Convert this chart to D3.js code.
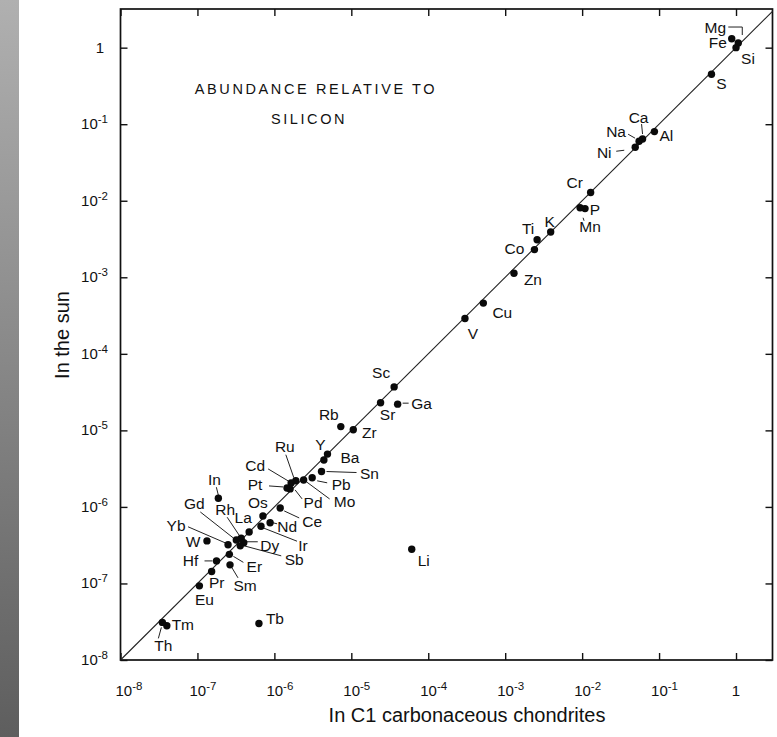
<!DOCTYPE html>
<html><head><meta charset="utf-8">
<script src="https://cdn.jsdelivr.net/npm/d3@7"></script>
<style>
body{margin:0;background:#fff;}
svg{display:block;}
text{font-family:"Liberation Sans",Arial,Helvetica,sans-serif;fill:#111;}
</style>
</head><body><svg id="c" width="777" height="737"></svg>
<script>
// ---------------- data ----------------
const elements  = ["Mg","Fe","Si","S","Al","Ca","Na","Ni","Cr","P","Mn","K","Ti","Co","Zn","Cu","V",
  "Sc","Sr","Ga","Rb","Zr","Y","Ba","Sn","Pb","Mo","Pd","Ru","Cd","Pt","Os","Ce","Nd","Ir","La",
  "In","Rh","Gd","Yb","W","Dy","Sb","Hf","Er","Sm","Pr","Eu","Tm","Th","Tb","Li"];
const chondrite = [1.07,0.88,1.0,0.48,0.087,0.061,0.055,0.049,0.0129,0.0109,0.0094,0.0039,0.0026,0.0024,0.0013,0.00052,0.0003,
  3.6e-5,2.4e-5,4.0e-5,7.3e-6,1.06e-5,4.9e-6,4.4e-6,4.1e-6,3.1e-6,2.4e-6,1.6e-6,1.9e-6,1.65e-6,1.46e-6,7.1e-7,1.19e-6,8.8e-7,6.7e-7,4.7e-7,
  1.87e-7,3.7e-7,3.2e-7,2.5e-7,1.33e-7,4.0e-7,3.6e-7,1.77e-7,2.6e-7,2.65e-7,1.53e-7,1.06e-7,4.0e-8,3.5e-8,6.3e-7,6.1e-5];
const sun       = [1.15,1.31,1.0,0.45,0.08,0.064,0.06,0.05,0.0128,0.0079,0.0081,0.0039,0.0031,0.0023,0.00113,0.00046,0.00029,
  3.7e-5,2.3e-5,2.2e-5,1.12e-5,1.02e-5,4.9e-6,4.1e-6,2.9e-6,2.4e-6,2.25e-6,1.72e-6,2.2e-6,2.06e-6,1.77e-6,7.6e-7,9.7e-7,6.2e-7,5.6e-7,4.7e-7,
  1.3e-6,3.9e-7,3.7e-7,3.2e-7,3.6e-7,3.4e-7,3.1e-7,1.97e-7,2.4e-7,1.75e-7,1.43e-7,9.3e-8,2.8e-8,3.1e-8,3.0e-8,2.8e-7];
const tickExponents = [-8,-7,-6,-5,-4,-3,-2,-1,0];
const titleLines = ["ABUNDANCE RELATIVE TO","SILICON"];
const xTitle = "In C1 carbonaceous chondrites";
const yTitle = "In the sun";

// ---------------- label layout (offsets from the point, px) ----------------
const labelLayout = {
  Mg:{dx:-23,dy:-16, path:[[-10,-16],[4,-16],[4,-8]]},
  Fe:{dx:-14,dy:4}, Si:{dx:12,dy:11}, S:{dx:10,dy:9}, Al:{dx:12,dy:4},
  Ca:{dx:-4,dy:-22, path:[[-1,-15],[0,-5]]},
  Na:{dx:-23,dy:-10, path:[[-11,-7],[-4,-3]]},
  Ni:{dx:-31,dy:5, path:[[-19,4],[-11,3]]},
  Cr:{dx:-16,dy:-10}, P:{dx:10,dy:1},
  Mn:{dx:10,dy:19, path:[[3,10],[4,13]]},
  K:{dx:-1,dy:-11}, Ti:{dx:-9,dy:-11}, Co:{dx:-20,dy:-1}, Zn:{dx:19,dy:6},
  Cu:{dx:19,dy:9}, V:{dx:8,dy:15}, Sc:{dx:-13,dy:-14}, Sr:{dx:7,dy:12},
  Ga:{dx:24,dy:-1, path:[[5,-1],[11,-1]]},
  Rb:{dx:-12,dy:-12}, Zr:{dx:16,dy:3}, Y:{dx:-7,dy:-10}, Ba:{dx:26,dy:-3},
  Sn:{dx:48,dy:2, path:[[5,0],[35,1]]},
  Pb:{dx:29,dy:7, path:[[5,3],[15,5]]},
  Mo:{dx:41,dy:22, path:[[3,2],[26,19]]},
  Pd:{dx:23,dy:14, path:[[5,1],[12,10]]},
  Ru:{dx:-11,dy:-34, path:[[-10,-26],[-2,-3]]},
  Cd:{dx:-36,dy:-17, path:[[-23,-14],[-3,-2]]},
  Pt:{dx:-32,dy:-3, path:[[-18,-2],[-4,-1]]},
  Os:{dx:-5,dy:-14},
  Ce:{dx:32,dy:14, path:[[4,3],[19,10]]},
  Nd:{dx:17,dy:4, path:[[3,0],[7,1]]},
  Ir:{dx:42,dy:19, path:[[3,2],[36,15]]},
  La:{dx:-6,dy:-15},
  In:{dx:-4,dy:-19, path:[[-2,-11],[0,-3]]},
  Rh:{dx:-16,dy:-29, path:[[-14,-21],[-2,-3]]},
  Gd:{dx:-42,dy:-36, path:[[-36,-28],[-3,-2]]},
  Yb:{dx:-52,dy:-19, path:[[-40,-18],[-3,-2]]},
  W:{dx:-14,dy:1},
  Dy:{dx:26,dy:3, path:[[3,-1],[14,-1]]},
  Sb:{dx:54,dy:14, path:[[4,0],[41,10]]},
  Hf:{dx:-26,dy:0, path:[[-12,0],[-4,0]]},
  Er:{dx:25,dy:12, path:[[4,2],[14,8]]},
  Sm:{dx:15,dy:21, path:[[2,3],[8,13]]},
  Pr:{dx:5,dy:11}, Eu:{dx:5,dy:14}, Tm:{dx:16,dy:-1},
  Th:{dx:1,dy:23, path:[[-4,16],[-1,5]]},
  Tb:{dx:16,dy:-5}, Li:{dx:12,dy:11}
};

// ---------------- drawing ----------------
const svg = d3.select("#c");
const defs = svg.append("defs");
const grad = defs.append("linearGradient").attr("id","bar").attr("x1",0).attr("y1",0).attr("x2",0).attr("y2",1);
grad.append("stop").attr("offset","0%").attr("stop-color","#b0b0b0");
grad.append("stop").attr("offset","100%").attr("stop-color","#5e5e5e");
svg.append("rect").attr("x",0).attr("y",0).attr("width",19).attr("height",737).attr("fill","url(#bar)");

const L = 120.5, R = 772.5, T = 9, B = 660;
const x = d3.scaleLog().domain([1e-8, 2.98]).range([L, R]);
const y = d3.scaleLog().domain([1e-8, 3.2]).range([B, T]);
const tickVals = tickExponents.map(e => Math.pow(10, e));

function styleAxis(g){
  g.select(".domain").remove();
  g.selectAll(".tick line").attr("stroke","#111").attr("stroke-width",1.4);
}
svg.append("g").attr("transform",`translate(0,${B})`).call(d3.axisBottom(x).tickValues(tickVals).tickSize(-7).tickFormat("")).call(styleAxis);
svg.append("g").attr("transform",`translate(0,${T})`).call(d3.axisTop(x).tickValues(tickVals).tickSize(-7).tickFormat("")).call(styleAxis);
svg.append("g").attr("transform",`translate(${L},0)`).call(d3.axisLeft(y).tickValues(tickVals).tickSize(-7).tickFormat("")).call(styleAxis);
svg.append("g").attr("transform",`translate(${R},0)`).call(d3.axisRight(y).tickValues(tickVals).tickSize(-7).tickFormat("")).call(styleAxis);

svg.append("rect").attr("x",L).attr("y",T).attr("width",R-L).attr("height",B-T)
  .attr("fill","none").attr("stroke","#111").attr("stroke-width",1.7);

// tick labels
tickExponents.forEach(e => {
  const v = Math.pow(10, e);
  const tx = svg.append("text").attr("y", 696).attr("font-size",15);
  if (e === 0) { tx.attr("x", x(v)).attr("text-anchor","middle").text("1"); }
  else {
    tx.attr("x", x(v) - 8 + (e === -8 ? 3 : 0)).attr("text-anchor","start");
    tx.append("tspan").text("10");
    tx.append("tspan").attr("dy",-6).attr("font-size",11.5).text("-" + (-e));
  }
  const ty = svg.append("text").attr("y", y(v) + 5).attr("font-size",15).attr("text-anchor","end");
  if (e === 0) { ty.attr("x", 104).text("1"); }
  else {
    ty.attr("x", 108);
    ty.append("tspan").text("10");
    ty.append("tspan").attr("dy",-6).attr("font-size",11.5).text("-" + (-e));
  }
});

// axis titles
svg.append("text").attr("x", 467).attr("y", 722).attr("text-anchor","middle").attr("font-size",20).text(xTitle);
svg.append("text").attr("transform","translate(69,335) rotate(-90)").attr("text-anchor","middle").attr("font-size",20).text(yTitle);

// in-plot title
svg.append("text").attr("x",316).attr("y",94).attr("text-anchor","middle").attr("font-size",14.5).attr("letter-spacing",2.6).text(titleLines[0]);
svg.append("text").attr("x",309).attr("y",124).attr("text-anchor","middle").attr("font-size",14.5).attr("letter-spacing",2.6).text(titleLines[1]);

// diagonal
svg.append("line").attr("x1",x(1e-8)).attr("y1",y(1e-8)).attr("x2",x(2.98)).attr("y2",y(2.98))
  .attr("stroke","#222").attr("stroke-width",1.1);

// points
const pts = elements.map((n,i)=>({name:n, cx:x(chondrite[i]), cy:y(sun[i])}));
const lineGen = d3.line();
pts.forEach(p => {
  const lay = labelLayout[p.name];
  if (lay && lay.path) {
    svg.append("path").attr("d", lineGen(lay.path.map(q=>[p.cx+q[0], p.cy+q[1]])))
      .attr("fill","none").attr("stroke","#222").attr("stroke-width",1);
  }
});
svg.append("g").selectAll("circle").data(pts).join("circle")
  .attr("cx",d=>d.cx).attr("cy",d=>d.cy).attr("r",3.7).attr("fill","#0a0a0a");
svg.append("g").selectAll("text").data(pts).join("text")
  .attr("x",d=>d.cx + labelLayout[d.name].dx).attr("y",d=>d.cy + labelLayout[d.name].dy)
  .attr("text-anchor","middle").attr("dominant-baseline","central").attr("font-size",15.5)
  .text(d=>d.name);
</script>
</body></html>
